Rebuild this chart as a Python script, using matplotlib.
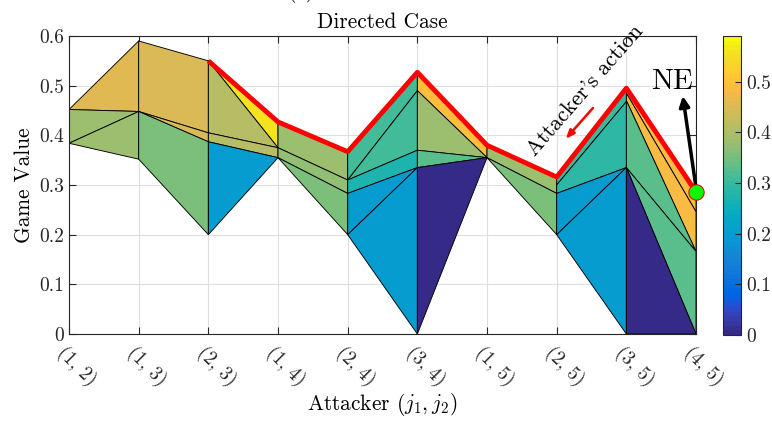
import numpy as np
import matplotlib
matplotlib.use('Agg')
import matplotlib.pyplot as plt
from matplotlib.colors import ListedColormap, Normalize
from matplotlib.collections import PolyCollection
from matplotlib.cm import ScalarMappable
from matplotlib import transforms

plt.rcParams['font.family'] = ['cmr10', 'DejaVu Serif']
plt.rcParams['mathtext.fontset'] = 'cm'
plt.rcParams['axes.unicode_minus'] = False
plt.rcParams['axes.formatter.use_mathtext'] = True

### Data
pairs = ['(1, 2)', '(1, 3)', '(2, 3)', '(1, 4)', '(2, 4)',
         '(3, 4)', '(1, 5)', '(2, 5)', '(3, 5)', '(4, 5)']

# patches: vertices as (pair index, game value), then the patch colour value
patches = [
    ([(0, .452), (1, .590), (1, .448)], .46),
    ([(0, .452), (1, .448), (0, .384)], .38),
    ([(0, .384), (1, .448), (1, .352)], .38),
    ([(1, .590), (2, .550), (2, .405), (1, .448)], .45),
    ([(1, .448), (2, .405), (2, .387)], .45),
    ([(1, .448), (2, .387), (2, .200), (1, .352)], .355),
    ([(2, .550), (3, .427), (3, .375)], .56),
    ([(2, .550), (3, .375), (2, .405)], .41),
    ([(2, .405), (3, .375), (3, .355), (2, .387)], .41),
    ([(2, .387), (3, .355), (2, .200)], .20),
    ([(3, .427), (4, .367), (4, .310), (3, .375)], .38),
    ([(3, .375), (4, .310), (4, .283), (3, .355)], .37),
    ([(3, .355), (4, .283), (4, .200)], .355),
    ([(4, .367), (5, .527), (5, .490), (4, .310)], .31),
    ([(4, .310), (5, .490), (5, .370)], .31),
    ([(4, .310), (5, .370), (5, .335), (4, .283)], .27),
    ([(4, .283), (5, .335), (4, .200)], .20),
    ([(4, .200), (5, .335), (5, 0)], .20),
    ([(5, .527), (6, .380), (6, .355), (5, .490)], .49),
    ([(5, .490), (6, .355), (5, .370)], .38),
    ([(5, .370), (6, .355), (5, .335)], .33),
    ([(5, .335), (6, .355), (5, 0)], 0),
    ([(6, .380), (7, .316), (7, .283), (6, .355)], .385),
    ([(6, .355), (7, .283), (7, .200)], .355),
    ([(7, .316), (8, .495), (8, .468), (7, .300)], .30),
    ([(7, .300), (8, .468), (8, .335), (7, .283)], .29),
    ([(7, .283), (8, .335), (7, .200)], .20),
    ([(7, .200), (8, .335), (8, 0)], .20),
    ([(8, .495), (9, .285), (9, .246), (8, .485)], .48),
    ([(8, .485), (9, .246), (9, .166), (8, .470)], .48),
    ([(8, .470), (9, .166), (8, .335)], .33),
    ([(8, .335), (9, .166), (9, 0)], .33),
    ([(8, .335), (9, 0), (8, 0)], 0),
]

# attacker's best response path, from pair (2, 3) on
path_start = 2
path_values = [.550, .427, .367, .527, .380, .316, .495, .286]
ne_index, ne_value = 9, .286

cmax = 0.59

# parula (64 colours)
parula = ListedColormap([
    [0.2081, 0.1663, 0.5292], [0.2116, 0.1898, 0.5777], [0.2123, 0.2138, 0.6270],
    [0.2081, 0.2386, 0.6771], [0.1959, 0.2645, 0.7279], [0.1707, 0.2919, 0.7792],
    [0.1253, 0.3242, 0.8303], [0.0591, 0.3598, 0.8683], [0.0117, 0.3875, 0.8820],
    [0.0060, 0.4086, 0.8828], [0.0165, 0.4266, 0.8786], [0.0329, 0.4430, 0.8720],
    [0.0498, 0.4586, 0.8641], [0.0629, 0.4737, 0.8554], [0.0723, 0.4887, 0.8467],
    [0.0779, 0.5040, 0.8384], [0.0793, 0.5200, 0.8312], [0.0749, 0.5375, 0.8263],
    [0.0641, 0.5570, 0.8240], [0.0488, 0.5772, 0.8228], [0.0343, 0.5966, 0.8199],
    [0.0265, 0.6137, 0.8135], [0.0239, 0.6287, 0.8038], [0.0231, 0.6418, 0.7913],
    [0.0228, 0.6535, 0.7768], [0.0267, 0.6642, 0.7607], [0.0384, 0.6743, 0.7436],
    [0.0590, 0.6838, 0.7254], [0.0843, 0.6928, 0.7062], [0.1133, 0.7015, 0.6859],
    [0.1453, 0.7098, 0.6646], [0.1801, 0.7177, 0.6424], [0.2178, 0.7250, 0.6193],
    [0.2586, 0.7317, 0.5954], [0.3022, 0.7376, 0.5712], [0.3482, 0.7424, 0.5473],
    [0.3953, 0.7459, 0.5244], [0.4420, 0.7481, 0.5033], [0.4871, 0.7491, 0.4840],
    [0.5300, 0.7491, 0.4661], [0.5709, 0.7485, 0.4494], [0.6099, 0.7473, 0.4337],
    [0.6473, 0.7456, 0.4188], [0.6834, 0.7435, 0.4044], [0.7184, 0.7411, 0.3905],
    [0.7525, 0.7384, 0.3768], [0.7858, 0.7356, 0.3633], [0.8185, 0.7327, 0.3498],
    [0.8507, 0.7299, 0.3360], [0.8824, 0.7274, 0.3217], [0.9139, 0.7258, 0.3063],
    [0.9450, 0.7261, 0.2886], [0.9739, 0.7314, 0.2666], [0.9938, 0.7455, 0.2403],
    [0.9990, 0.7653, 0.2164], [0.9955, 0.7861, 0.1967], [0.9880, 0.8066, 0.1794],
    [0.9789, 0.8271, 0.1633], [0.9697, 0.8481, 0.1475], [0.9626, 0.8705, 0.1309],
    [0.9589, 0.8949, 0.1132], [0.9598, 0.9218, 0.0948], [0.9661, 0.9514, 0.0755],
    [0.9763, 0.9831, 0.0538]])
norm = Normalize(0, cmax)

### Figure
fig = plt.figure(figsize=(7.72, 4.21), dpi=100)
ax = fig.add_axes([0.0894, 0.2067, 0.8122, 0.7078])

verts = [pts for pts, c in patches]
cvals = np.array([c for pts, c in patches])
pc = PolyCollection(verts, array=cvals, cmap=parula, norm=norm,
                    edgecolors='k', linewidths=0.65, zorder=2)
ax.add_collection(pc)

xs = np.arange(path_start, path_start + len(path_values))
ax.plot(xs, path_values, color='red', linewidth=3.5, solid_capstyle='butt', zorder=3)
ax.plot(ne_index, ne_value, 'o', markersize=11, markerfacecolor=(0, 1, 0),
        markeredgecolor='red', markeredgewidth=0.8, clip_on=False, zorder=5)

# annotations
ax.annotate('', xy=(8.81, 0.479), xytext=(ne_index, ne_value + 0.008),
            arrowprops=dict(arrowstyle='-|>,head_length=0.6,head_width=0.3',
                            color='k', lw=2.5, shrinkA=0, shrinkB=0), zorder=4)
ax.text(8.655, 0.507, 'NE', fontsize=21, ha='center', va='center')
ax.annotate('', xy=(7.13, 0.393), xytext=(7.52, 0.455),
            arrowprops=dict(arrowstyle='-|>,head_length=0.5,head_width=0.2',
                            color='red', lw=1.8, shrinkA=0, shrinkB=0), zorder=4)
ax.text(7.41, 0.491, "Attacker's action", fontsize=16, rotation=49,
        ha='center', va='center', rotation_mode='anchor')

ax.set_xlim(0, len(pairs) - 1)
ax.set_ylim(0, 0.6)
ax.set_xticks(np.arange(len(pairs)))
ax.set_xticklabels([])
# rotated pair labels, set a bit right of and below each tick
lab_tr = ax.get_xaxis_transform() + transforms.ScaledTranslation(0.08, -0.32, fig.dpi_scale_trans)
for i, name in enumerate(pairs):
    ax.text(i, 0, name, transform=lab_tr, rotation=-45, ha='center', va='center',
            fontsize=14, color='#262626')
ax.set_yticks(np.arange(0, 0.61, 0.1))
ax.set_yticklabels(['0', '0.1', '0.2', '0.3', '0.4', '0.5', '0.6'], fontsize=14)
ax.tick_params(direction='in', top=True, right=True, length=5, width=0.8,
               color='#262626', labelcolor='#262626')
ax.grid(True, color='#dfdfdf', linewidth=0.8)
ax.set_axisbelow(True)
for s in ax.spines.values():
    s.set_color('#262626')
    s.set_linewidth(0.8)

ax.set_xlabel('Attacker $(j_1, j_2)$', fontsize=15.4)
ax.xaxis.set_label_coords(0.5, -0.235)
ax.xaxis.label.set_va('center')
ax.set_ylabel('Game Value', fontsize=15.4)
ax.set_title('Directed Case', fontsize=15.4, pad=6)
fig.text(302 / 772, 1.006, '(a)', fontsize=15.4, ha='center', va='baseline')

# colour bar
cax = fig.add_axes([0.9365, 0.2043, 0.0233, 0.7102])
cb = fig.colorbar(ScalarMappable(norm=norm, cmap=parula), cax=cax)
cb.set_ticks(np.arange(0, 0.51, 0.1))
cb.set_ticklabels(['0', '0.1', '0.2', '0.3', '0.4', '0.5'])
cax.tick_params(direction='in', length=4, width=0.8, labelsize=14,
                color='#262626', labelcolor='#262626')
cb.outline.set_edgecolor('#262626')
cb.outline.set_linewidth(0.8)

fig.savefig('out.png', dpi=100)
